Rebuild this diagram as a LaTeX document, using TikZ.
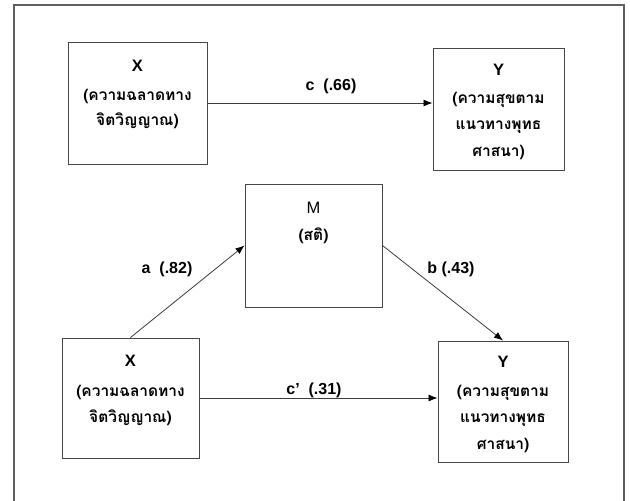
\documentclass[tikz,border=0pt]{standalone}
\usepackage{fontspec}
\setmainfont{Liberation Sans}
\newfontfamily\thai[Script=Thai]{Loma}
\usetikzlibrary{arrows.meta}
\definecolor{framegray}{RGB}{95,95,95}
\definecolor{boxgray}{RGB}{70,70,70}
\definecolor{linegray}{RGB}{60,60,60}
\begin{document}
\begin{tikzpicture}[x=1pt,y=-1pt,
  varbox/.style={draw=boxgray, line width=1pt, rectangle, inner sep=0pt},
  vname/.style={font=\fontsize{16.5}{18}\selectfont\bfseries, inner sep=0pt},
  mname/.style={font=\fontsize{16.5}{18}\selectfont, inner sep=0pt},
  thline/.style={font=\fontsize{15.5}{18}\selectfont\thai\bfseries, inner sep=0pt},
  plabel/.style={font=\fontsize{16}{18}\selectfont\bfseries, inner sep=0pt},
  conn/.style={draw=linegray, line width=0.8pt, -{Latex[length=9pt,width=7pt,black]}}]
\useasboundingbox (0,0) rectangle (630,501);
\fill[white] (0,0) rectangle (630,501);
% frame (open at the bottom)
\draw[framegray, line width=2pt] (14,501) -- (14,5) -- (624,5) -- (624,501);

% boxes
\node[varbox, minimum width=139pt, minimum height=122pt] (X1) at (137.5,103) {};
\node[varbox, minimum width=131pt, minimum height=122pt] (Y1) at (498.5,109) {};
\node[varbox, minimum width=137pt, minimum height=123pt] (M) at (313.5,245.5) {};
\node[varbox, minimum width=137pt, minimum height=120pt] (X2) at (130.5,398) {};
\node[varbox, minimum width=130pt, minimum height=121pt] (Y2) at (503,401.5) {};

% texts top X
\node[vname] (X1a) at (137.5,66) {X};
\node[thline] (X1b) at (137.5,96) {(ความฉลาดทาง};
\node[thline] (X1c) at (137.5,121) {จิตวิญญาณ)};
% texts top Y
\node[vname] (Y1a) at (498.5,70) {Y};
\node[thline] (Y1b) at (498.5,100) {(ความสุขตาม};
\node[thline] (Y1c) at (498.5,127) {แนวทางพุทธ};
\node[thline] (Y1d) at (498.5,152) {ศาสนา)};
% texts M
\node[mname] (Ma) at (313.5,208) {M};
\node[thline] (Mb) at (313.5,236) {(สติ)};
% texts bottom X
\node[vname] (X2a) at (130.5,361) {X};
\node[thline] (X2b) at (130.5,392) {(ความฉลาดทาง};
\node[thline] (X2c) at (130.5,418) {จิตวิญญาณ)};
% texts bottom Y
\node[vname] (Y2a) at (503,362) {Y};
\node[thline] (Y2b) at (503,393) {(ความสุขตาม};
\node[thline] (Y2c) at (503,420) {แนวทางพุทธ};
\node[thline] (Y2d) at (503,445) {ศาสนา)};

% connectors
\draw[conn] (X1.east) -- (X1.east -| Y1.west);
\draw[conn] (X2.east) -- (X2.east -| Y2.west);
\draw[conn] (X2.north) -- (M.west);
\draw[conn] (M.east) -- (Y2.north);

% path labels
\node[plabel] (lc) at (331,86) {c\ \ (.66)};
\node[plabel] (la) at (167,269) {a\ \ (.82)};
\node[plabel] (lb) at (451,269) {b (.43)};
\node[plabel] (lcp) at (314,390) {c'\ \ (.31)};
\end{tikzpicture}
\end{document}
